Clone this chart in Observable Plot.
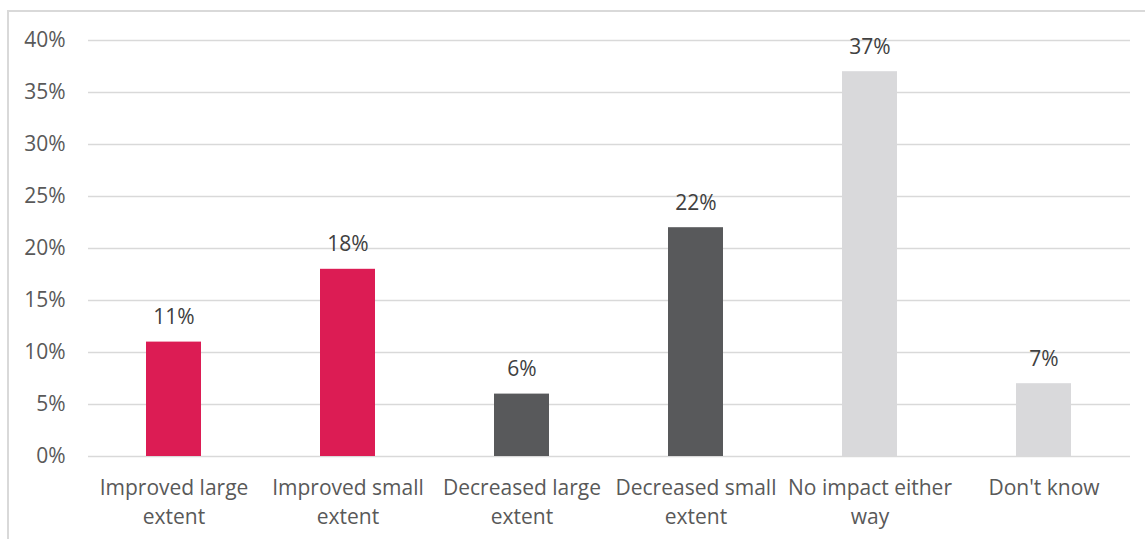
<!DOCTYPE html>
<html><head><meta charset="utf-8">
<script src="https://cdn.jsdelivr.net/npm/d3@7"></script>
<script src="https://cdn.jsdelivr.net/npm/@observablehq/plot@0.6"></script>
<style>
body{margin:0;background:#fff;}
#wrap{position:relative;width:1145px;height:539px;overflow:hidden;}
#frame{position:absolute;left:7px;top:10px;width:1200px;height:600px;border-left:2px solid #d9d9d9;border-top:2px solid #d9d9d9;box-sizing:border-box;}
#chart{position:absolute;left:0;top:0;}
</style></head>
<body><div id="wrap"><div id="frame"></div><div id="chart"></div></div>
<script>
const categories = ["Improved large\nextent","Improved small\nextent","Decreased large\nextent","Decreased small\nextent","No impact either\nway","Don't know"];
const values = [11, 18, 6, 22, 37, 7];
const colors = ["#DC1C54","#DC1C54","#58595B","#58595B","#D9D9DB","#D9D9DB"];
const yTicks = [0,5,10,15,20,25,30,35,40];

const data = categories.map((c,i)=>({cat:c, value:values[i], color:colors[i]}));

const chart = Plot.plot({
  width:1145, height:539,
  marginLeft:88, marginRight:15, marginTop:40, marginBottom:83,
  style:{fontFamily:"'Open Sans', sans-serif", fontSize:"21px", color:"#595959", background:"transparent"},
  x:{domain:categories, paddingInner:0.683, paddingOuter:0.3415, range:[86,1131], label:null},
  y:{domain:[0,40], label:null},
  marks:[
    Plot.ruleY(yTicks, {stroke:"#d9d9d9", strokeWidth:1.5}),
    Plot.barY(data, {x:"cat", y:"value", fill:"color"}),
    Plot.text(data, {x:"cat", y:"value", text:d=>d.value+"%", dy:-18, lineAnchor:"bottom", fill:"#404040", fontSize:21}),
    Plot.axisY({ticks:yTicks, tickFormat:d=>d+"%", tickSize:0, tickPadding:23, fill:"#595959", fontSize:21, label:null}),
    Plot.axisX({tickSize:0, tickPadding:18, fill:"#595959", fontSize:21, lineHeight:1.38, label:null})
  ]
});
document.getElementById("chart").appendChild(chart);
</script>
</body></html>
